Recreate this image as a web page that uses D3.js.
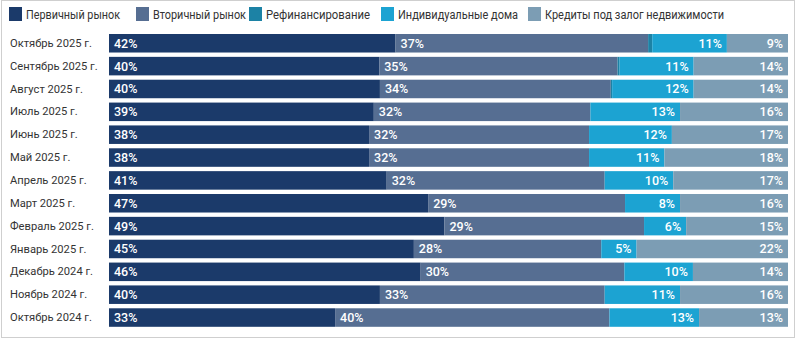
<!DOCTYPE html>
<html><head><meta charset="utf-8">
<script src="https://cdn.jsdelivr.net/npm/d3@7/dist/d3.min.js"></script>
<style>
html,body{margin:0;padding:0;background:#fff;}
svg{display:block;font-family:Roboto,"Noto Sans",sans-serif;}
</style></head>
<body><svg id="chart" width="800" height="339"></svg>
<script>
const categories = ["Октябрь 2025 г.","Сентябрь 2025 г.","Август 2025 г.","Июль 2025 г.","Июнь 2025 г.","Май 2025 г.","Апрель 2025 г.","Март 2025 г.","Февраль 2025 г.","Январь 2025 г.","Декабрь 2024 г.","Ноябрь 2024 г.","Октябрь 2024 г."];
const seriesNames = ["Первичный рынок","Вторичный рынок","Рефинансирование","Индивидуальные дома","Кредиты под залог недвижимости"];
const primary   = [42.2,39.8,39.9,39.0,38.3,38.3,40.9,47.0,49.4,44.9,45.9,39.9,33.3];
const secondary = [37.2,35.1,34.0,31.9,32.4,32.4,32.1,29.0,29.4,27.6,30.0,33.1,40.4];
const refinance = [0.6,0.3,0.2,0,0,0,0,0,0,0,0,0,0];
const houses    = [11.0,10.9,12.0,13.2,12.2,11.1,10.1,8.1,6.2,5.2,10.1,11.1,13.2];
const pledge    = [9.0,13.9,13.9,15.9,17.1,18.2,16.9,15.9,15.0,22.3,14.0,15.9,13.1];
const colors = ["#1b3a6a","#566e92","#1c82a5","#1ca3d2","#7c9db4"];

const svg = d3.select("#chart");
const seriesData = [primary, secondary, refinance, houses, pledge];
const rows = categories.map((c,i)=>{const o={cat:c}; seriesNames.forEach((s,j)=>o[s]=seriesData[j][i]); return o;});
const stack = d3.stack().keys(seriesNames)(rows);

const x = d3.scaleLinear().domain([0,100]).range([109,788]);
const y = d3.scaleBand().domain(categories).range([29.66,331.14]).padding(0.19);

// border
svg.append("rect").attr("x",1.5).attr("y",0.5).attr("width",793).attr("height",337)
  .attr("fill","none").attr("stroke","#cfcfcf");

// legend
const legendX = [9,136,249,381,528];
const legendW = [94,93,104,120,179];
const lg = svg.append("g");
seriesNames.forEach((s,i)=>{
  lg.append("rect").attr("x",legendX[i]).attr("y",7).attr("width",13).attr("height",14).attr("fill",colors[i]);
  lg.append("text").attr("x",legendX[i]+17).attr("y",19).attr("font-size",12.5).attr("fill","#333")
    .attr("textLength",legendW[i]).attr("lengthAdjust","spacingAndGlyphs").text(s);
});

// axis labels
const yAxis = d3.axisLeft(y).tickSize(0).tickPadding(0);
const ag = svg.append("g").attr("transform","translate(10,0)").call(yAxis);
ag.select(".domain").remove();
ag.selectAll("text").attr("text-anchor","start").attr("font-size",12).attr("fill","#333")
  .attr("font-family","Roboto,'Noto Sans',sans-serif");
const cw = ag.select("text").node().getComputedTextLength();
const cfs = Math.min(13, 12*82/cw);
ag.selectAll("text").attr("font-size",cfs);

// bars
const g = svg.append("g");
stack.forEach((layer,si)=>{
  g.selectAll(null).data(layer).enter().append("rect")
    .attr("x",d=>x(d[0])).attr("width",d=>Math.max(0,x(d[1])-x(d[0])))
    .attr("y",d=>y(d.data.cat)).attr("height",y.bandwidth())
    .attr("fill",colors[si]);
});
// labels
stack.forEach((layer,si)=>{
  if(si===2) return;
  const left = si<2;
  g.selectAll(null).data(layer).enter().append("text")
    .attr("x",d=> left ? x(d[0])+5 : x(d[1])-5)
    .attr("y",d=>y(d.data.cat)+y.bandwidth()/2+4.5)
    .attr("text-anchor", left ? "start":"end")
    .attr("font-size",12.5).attr("font-weight",500).attr("fill","#fff")
    .text(d=>Math.round(d[1]-d[0])+"%");
});
</script></body></html>
